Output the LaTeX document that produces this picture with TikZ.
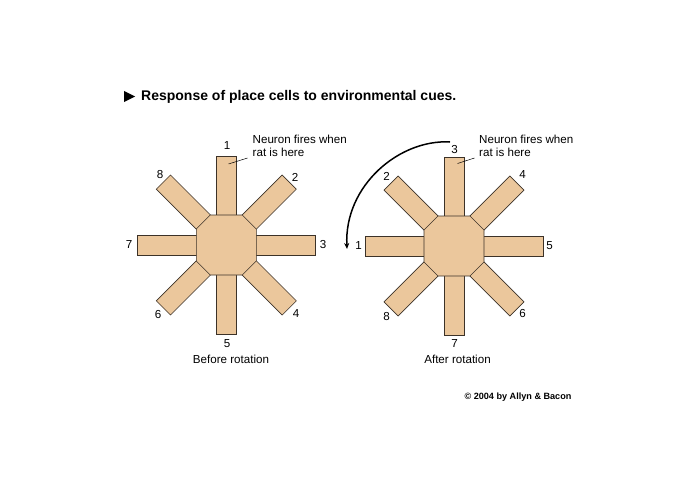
\documentclass[tikz,border=0pt]{standalone}
\usepackage{fontspec}
\setmainfont{Liberation Sans}
\usetikzlibrary{arrows.meta}
\definecolor{maze}{RGB}{235,199,156}
\definecolor{edge}{RGB}{60,50,40}
\tikzset{
  x=1pt, y=-1pt,
  arm/.style={fill=maze, draw=edge, line width=0.6pt},
  hub/.style={fill=maze, draw=edge, line width=0.6pt},
  num/.style={font=\fontsize{11.6}{13}\selectfont, inner sep=0pt},
  note/.style={font=\fontsize{11.6}{12.6}\selectfont, inner sep=0pt, align=left, anchor=north west},
  captext/.style={font=\fontsize{11.6}{13}\selectfont, inner sep=0pt},
  leader/.style={draw=black, line width=0.5pt},
}
\newcommand{\mazedraw}[2]{%
  \begin{scope}[shift={(#1,#2)}]
    \foreach \k in {0,...,7}{
      \draw[arm, rotate=45*\k] (-10,0) rectangle (10,-89);
    }
    \draw[hub] (-16,-30) -- (16,-30) -- (30,-16) -- (30,16) -- (16,30) -- (-16,30) -- (-30,16) -- (-30,-16) -- cycle;
  \end{scope}}
\begin{document}
\begin{tikzpicture}
\useasboundingbox (0,0) rectangle (700,500);
% title
\node[font=\fontsize{14}{16}\selectfont\bfseries, anchor=west, inner sep=0pt] (title) at (141,96.5) {Response of place cells to environmental cues.};
\fill (124,91) -- (135,96.5) -- (124,102) -- cycle;
% left maze
\mazedraw{226.3}{245}
\node[num] (l1) at (227,146) {1};
\node[num] (l2) at (295,177) {2};
\node[num] (l3) at (323,245) {3};
\node[num] (l4) at (296,314) {4};
\node[num] (l5) at (227,344) {5};
\node[num] (l6) at (158,315) {6};
\node[num] (l7) at (129,245) {7};
\node[num] (l8) at (160,175) {8};
\node[captext] (lcap) at (231,359.5) {Before rotation};
\node[note] (lnote) at (252.5,135) {Neuron fires when\\rat is here};
\coordinate (lp) at (228.5,164);
\coordinate (lq) at (247.5,158);
\draw[leader] (lp) -- (lq);
% right maze
\mazedraw{454}{246}
\node[num] (r3) at (454.5,150) {3};
\node[num] (r4) at (522.5,174.5) {4};
\node[num] (r5) at (549.5,246) {5};
\node[num] (r6) at (522.5,313.5) {6};
\node[num] (r7) at (454.5,343.5) {7};
\node[num] (r8) at (386.5,316.5) {8};
\node[num] (r1) at (358.5,246) {1};
\node[num] (r2) at (386.5,176) {2};
\node[captext] (rcap) at (457.5,359.5) {After rotation};
\node[note] (rnote) at (479,135) {Neuron fires when\\rat is here};
\coordinate (rp) at (457.5,163.5);
\coordinate (rq) at (474.5,158);
\draw[leader] (rp) -- (rq);
% rotation arrow
\coordinate (as) at (450,142);
\coordinate (ae) at (347,249);
\draw[line width=1.5pt, -{Stealth[length=6pt,width=5pt]}] (as) .. controls (400,139) and (344,185) .. (ae);
% copyright
\node[font=\fontsize{9.1}{10.5}\selectfont\bfseries, inner sep=0pt] (copy) at (518,397) {\textcopyright{} 2004 by Allyn \& Bacon};
\end{tikzpicture}
\end{document}
